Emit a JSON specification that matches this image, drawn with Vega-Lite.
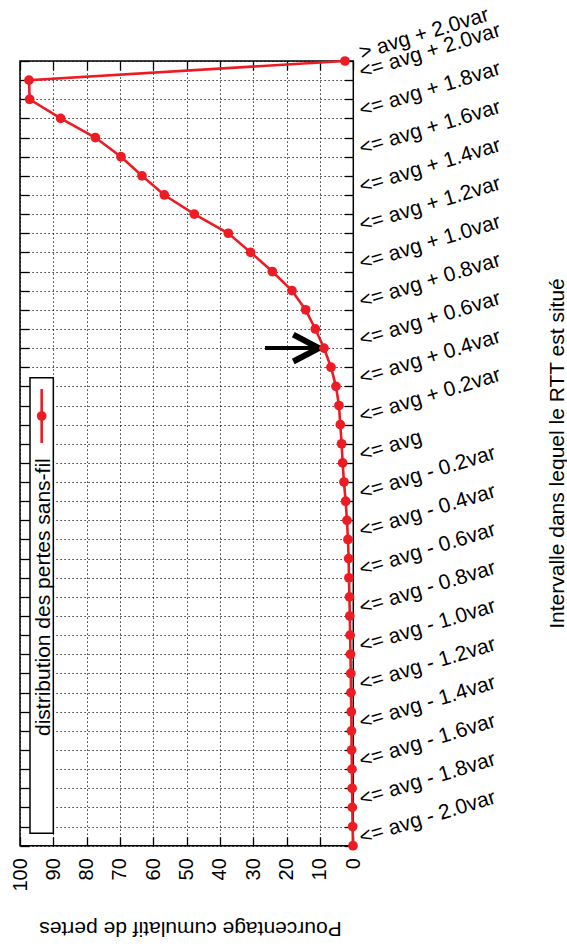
{
  "$schema": "https://vega.github.io/schema/vega-lite/v6.json",
  "width": 333.3,
  "height": 784.7,
  "autosize": "none",
  "padding": {"left": 20, "top": 61, "right": 213.7, "bottom": 102.3},
  "background": "white",
  "config": {
    "view": {"stroke": "black", "strokeWidth": 1.5},
    "font": "Liberation Sans",
    "axis": {
      "labelFont": "Liberation Sans",
      "titleFont": "Liberation Sans",
      "labelColor": "black",
      "titleColor": "black",
      "tickColor": "black",
      "tickWidth": 1.3,
      "domain": false,
      "gridColor": "black",
      "gridDash": [1.2, 2.8],
      "gridOpacity": 1,
      "gridWidth": 1,
      "labelOverlap": false,
      "labelBound": false,
      "labelFlush": false
    }
  },
  "data": {
    "values": [
      {"idx": 0, "interval": "<= avg - 2.0var", "pct": 0.1},
      {"idx": 1, "interval": "<= avg - 1.9var", "pct": 0.2},
      {"idx": 2, "interval": "<= avg - 1.8var", "pct": 0.3},
      {"idx": 3, "interval": "<= avg - 1.7var", "pct": 0.35},
      {"idx": 4, "interval": "<= avg - 1.6var", "pct": 0.4},
      {"idx": 5, "interval": "<= avg - 1.5var", "pct": 0.5},
      {"idx": 6, "interval": "<= avg - 1.4var", "pct": 0.55},
      {"idx": 7, "interval": "<= avg - 1.3var", "pct": 0.6},
      {"idx": 8, "interval": "<= avg - 1.2var", "pct": 0.7},
      {"idx": 9, "interval": "<= avg - 1.1var", "pct": 0.75},
      {"idx": 10, "interval": "<= avg - 1.0var", "pct": 0.85},
      {"idx": 11, "interval": "<= avg - 0.9var", "pct": 0.95},
      {"idx": 12, "interval": "<= avg - 0.8var", "pct": 1.05},
      {"idx": 13, "interval": "<= avg - 0.7var", "pct": 1.15},
      {"idx": 14, "interval": "<= avg - 0.6var", "pct": 1.3},
      {"idx": 15, "interval": "<= avg - 0.5var", "pct": 1.4},
      {"idx": 16, "interval": "<= avg - 0.4var", "pct": 1.6},
      {"idx": 17, "interval": "<= avg - 0.3var", "pct": 1.9},
      {"idx": 18, "interval": "<= avg - 0.2var", "pct": 2.3},
      {"idx": 19, "interval": "<= avg - 0.1var", "pct": 2.8},
      {"idx": 20, "interval": "<= avg", "pct": 3.2},
      {"idx": 21, "interval": "<= avg + 0.1var", "pct": 3.5},
      {"idx": 22, "interval": "<= avg + 0.2var", "pct": 3.9},
      {"idx": 23, "interval": "<= avg + 0.3var", "pct": 4.3},
      {"idx": 24, "interval": "<= avg + 0.4var", "pct": 5.2},
      {"idx": 25, "interval": "<= avg + 0.5var", "pct": 6.7},
      {"idx": 26, "interval": "<= avg + 0.6var", "pct": 8.8},
      {"idx": 27, "interval": "<= avg + 0.7var", "pct": 11.4},
      {"idx": 28, "interval": "<= avg + 0.8var", "pct": 14.3},
      {"idx": 29, "interval": "<= avg + 0.9var", "pct": 18.4},
      {"idx": 30, "interval": "<= avg + 1.0var", "pct": 24.3},
      {"idx": 31, "interval": "<= avg + 1.1var", "pct": 30.8},
      {"idx": 32, "interval": "<= avg + 1.2var", "pct": 37.5},
      {"idx": 33, "interval": "<= avg + 1.3var", "pct": 47.7},
      {"idx": 34, "interval": "<= avg + 1.4var", "pct": 56.7},
      {"idx": 35, "interval": "<= avg + 1.5var", "pct": 63.4},
      {"idx": 36, "interval": "<= avg + 1.6var", "pct": 69.7},
      {"idx": 37, "interval": "<= avg + 1.7var", "pct": 77.4},
      {"idx": 38, "interval": "<= avg + 1.8var", "pct": 87.8},
      {"idx": 39, "interval": "<= avg + 1.9var", "pct": 97.1},
      {"idx": 40, "interval": "<= avg + 2.0var", "pct": 97.3},
      {"idx": 41, "interval": "> avg + 2.0var", "pct": 2.5}
    ]
  },
  "resolve": {"axis": {"x": "independent", "y": "independent"}},
  "layer": [
    {
      "mark": {"type": "point", "opacity": 0},
      "encoding": {
        "x": {
          "field": "pct", "type": "quantitative",
          "scale": {"domain": [0, 100], "reverse": true, "nice": false, "zero": false},
          "axis": {
            "orient": "bottom",
            "values": [0, 10, 20, 30, 40, 50, 60, 70, 80, 90, 100],
            "grid": true,
            "ticks": true,
            "tickSize": -9,
            "labelAngle": 270,
            "labelFontSize": 20,
            "labelPadding": 21,
            "title": "Pourcentage cumulatif de pertes",
            "titleFontSize": 21,
            "titleFontWeight": "normal",
            "titleAngle": 180,
            "titleAlign": "center",
            "titleBaseline": "alphabetic",
            "titleX": 170,
            "titleY": 76
          }
        },
        "y": {
          "field": "idx", "type": "quantitative",
          "scale": {"domain": [0, 41], "nice": false, "zero": false},
          "axis": {
            "orient": "right",
            "values": [0,1,2,3,4,5,6,7,8,9,10,11,12,13,14,15,16,17,18,19,20,21,22,23,24,25,26,27,28,29,30,31,32,33,34,35,36,37,38,39,40,41],
            "labelExpr": "datum.value == 41 ? '> avg + 2.0var' : (datum.value % 2 != 0 ? '' : (datum.value == 20 ? '<= avg' : '<= avg ' + (datum.value > 20 ? '+ ' : '- ') + format(abs(datum.value - 20) / 10, '.1f') + 'var'))",
            "grid": true,
            "ticks": true,
            "tickSize": -9,
            "labelAngle": -17,
            "labelAlign": "left",
            "labelBaseline": "alphabetic",
            "labelFontSize": 21,
            "labelPadding": 17,
            "labelOffset": -2,
            "title": "Intervalle dans lequel le RTT est situé",
            "titleFontSize": 21,
            "titleFontWeight": "normal",
            "titleAngle": 270,
            "titleAlign": "center",
            "titleBaseline": "alphabetic",
            "titleX": 210,
            "titleY": 392
          }
        }
      }
    },
    {
      "mark": {"type": "point", "opacity": 0},
      "encoding": {
        "x": {
          "field": "pct", "type": "quantitative",
          "axis": {
            "orient": "top",
            "values": [0, 10, 20, 30, 40, 50, 60, 70, 80, 90, 100],
            "grid": false, "labels": false, "title": null,
            "tickSize": -9
          }
        },
        "y": {
          "field": "idx", "type": "quantitative",
          "axis": {
            "orient": "left",
            "values": [0,1,2,3,4,5,6,7,8,9,10,11,12,13,14,15,16,17,18,19,20,21,22,23,24,25,26,27,28,29,30,31,32,33,34,35,36,37,38,39,40,41],
            "grid": false, "labels": false, "title": null,
            "tickSize": -9
          }
        }
      }
    },
    {
      "data": {"values": [{}]},
      "mark": {"type": "rect", "fill": "white", "stroke": "black", "strokeWidth": 1.5},
      "encoding": {
        "x": {"datum": 97.0, "type": "quantitative", "axis": null},
        "x2": {"datum": 90.0},
        "y": {"datum": 24.45, "type": "quantitative", "axis": null},
        "y2": {"datum": 0.65}
      }
    },
    {
      "data": {"values": [{}]},
      "mark": {"type": "rule", "color": "#ec1c24", "strokeWidth": 2.6},
      "encoding": {
        "x": {"datum": 93.5, "type": "quantitative", "axis": null},
        "y": {"datum": 23.86, "type": "quantitative", "axis": null},
        "y2": {"datum": 21.04}
      }
    },
    {
      "data": {"values": [{}]},
      "mark": {"type": "point", "filled": true, "color": "#ec1c24", "opacity": 1, "size": 95},
      "encoding": {
        "x": {"datum": 93.5, "type": "quantitative", "axis": null},
        "y": {"datum": 22.45, "type": "quantitative", "axis": null}
      }
    },
    {
      "data": {"values": [{}]},
      "mark": {"type": "text", "text": "distribution des pertes sans-fil", "angle": 270, "align": "left", "baseline": "alphabetic", "fontSize": 21, "font": "Liberation Sans", "color": "black"},
      "encoding": {
        "x": {"datum": 91.0, "type": "quantitative", "axis": null},
        "y": {"datum": 5.73, "type": "quantitative", "axis": null}
      }
    },
    {
      "mark": {"type": "line", "color": "#ec1c24", "strokeWidth": 2.6, "point": {"filled": true, "color": "#ec1c24", "size": 95, "opacity": 1}},
      "encoding": {
        "x": {"field": "pct", "type": "quantitative", "axis": null},
        "y": {"field": "idx", "type": "quantitative", "axis": null},
        "order": {"field": "idx"}
      }
    },
    {
      "data": {"values": [{}]},
      "mark": {"type": "rule", "color": "black", "strokeWidth": 4},
      "encoding": {
        "x": {"datum": 26.5, "type": "quantitative", "axis": null},
        "x2": {"datum": 10.5},
        "y": {"datum": 26, "type": "quantitative", "axis": null},
        "y2": {"datum": 26}
      }
    },
    {
      "data": {"values": [{}]},
      "mark": {"type": "rule", "color": "black", "strokeWidth": 6},
      "encoding": {
        "x": {"datum": 18.0, "type": "quantitative", "axis": null},
        "x2": {"datum": 10.3},
        "y": {"datum": 26.7, "type": "quantitative", "axis": null},
        "y2": {"datum": 26}
      }
    },
    {
      "data": {"values": [{}]},
      "mark": {"type": "rule", "color": "black", "strokeWidth": 6},
      "encoding": {
        "x": {"datum": 18.0, "type": "quantitative", "axis": null},
        "x2": {"datum": 10.3},
        "y": {"datum": 25.3, "type": "quantitative", "axis": null},
        "y2": {"datum": 26}
      }
    }
  ]
}
